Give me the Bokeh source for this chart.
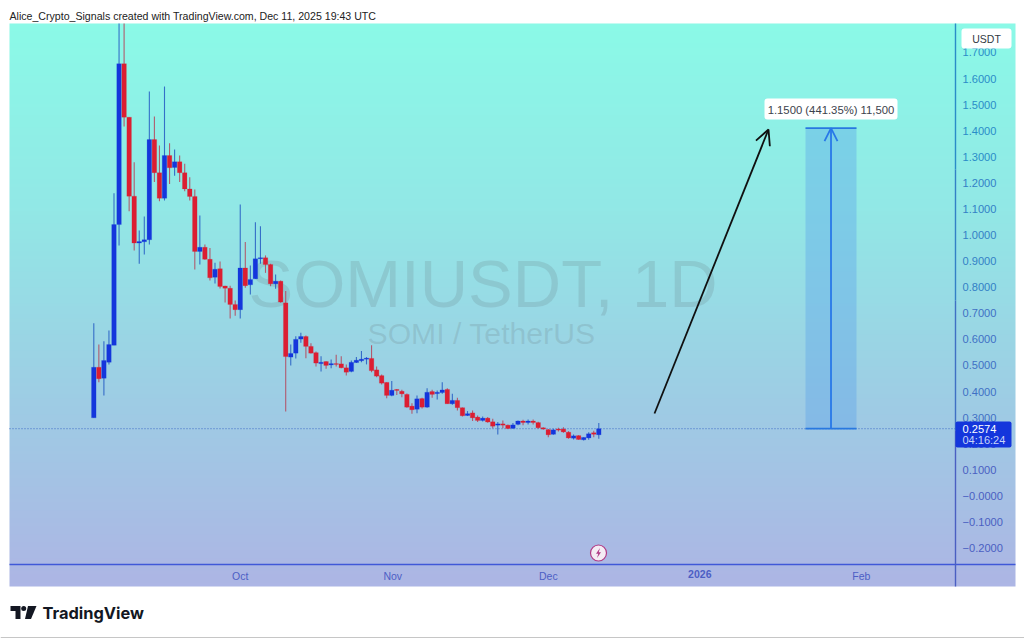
import numpy as np
from bokeh.core.properties import value
from bokeh.embed import file_html
from bokeh.models import (Arrow, BoxAnnotation, ColumnDataSource, FixedTicker, Label, LinearAxis, OpenHead,
                          Range1d)
from bokeh.plotting import figure
from bokeh.resources import INLINE

open_ = [.299,.493,.451,.512,.577,1.040,1.657,1.452,1.149,.969,.974,.982,1.366,1.239,1.141,1.305,1.259,1.281,1.239,1.177,
         1.148,.937,.953,.907,.838,.871,.805,.796,.734,.714,.874,.809,.832,.909,.913,.887,.813,.823,.740,.532,
         .547,.601,.611,.573,.549,.507,.515,.502,.507,.506,.491,.477,.511,.518,.524,.527,.483,.461,.435,.385,
         .408,.401,.389,.344,.332,.373,.340,.400,.392,.396,.408,.353,.366,.338,.308,.318,.302,.289,.298,.284,
         .271,.276,.271,.259,.274,.287,.281,.287,.281,.261,.254,.236,.256,.256,.244,.221,.231,.215,.222,.242,.234]
high = [.662,.580,.593,.634,1.160,1.811,1.811,1.452,1.279,1.017,1.071,1.550,1.455,1.343,1.570,1.352,1.328,1.305,1.273,1.222,
        1.175,1.075,.964,.950,.894,.899,.806,.806,.749,1.117,.973,.883,1.049,1.034,.922,.890,.849,.826,.785,.580,
        .612,.625,.615,.585,.553,.535,.516,.523,.541,.535,.504,.519,.532,.555,.532,.577,.496,.465,.436,.440,
        .410,.407,.392,.355,.385,.376,.413,.407,.404,.436,.413,.391,.376,.339,.325,.327,.308,.304,.302,.296,
        .283,.289,.274,.279,.289,.292,.293,.293,.284,.263,.256,.257,.261,.263,.248,.235,.232,.225,.244,.250,.279]
low = [.299,.436,.385,.504,.577,.960,1.416,1.091,.941,.890,.925,.964,1.203,1.130,1.132,1.196,1.227,1.203,1.168,1.132,
       .868,.887,.905,.826,.814,.795,.741,.680,.691,.680,.798,.772,.832,.890,.855,.804,.794,.740,.323,.500,
       .527,.587,.528,.546,.496,.477,.487,.489,.496,.489,.461,.474,.509,.512,.504,.474,.455,.427,.374,.382,
       .387,.378,.338,.315,.317,.335,.338,.376,.369,.391,.353,.349,.327,.304,.306,.287,.283,.285,.280,.259,
       .235,.259,.256,.256,.271,.271,.274,.274,.257,.253,.225,.234,.247,.242,.219,.216,.215,.212,.215,.225,.219]
close = [.493,.449,.519,.580,1.040,1.657,1.452,1.149,.969,.975,.982,1.366,1.239,1.141,1.305,1.258,1.281,1.239,1.177,1.148,
         .937,.953,.907,.836,.869,.803,.796,.734,.714,.874,.806,.830,.909,.913,.887,.813,.823,.743,.534,.546,
         .600,.611,.573,.547,.509,.512,.500,.507,.504,.491,.474,.512,.520,.524,.528,.480,.459,.432,.385,.405,
         .404,.391,.340,.330,.372,.340,.397,.389,.397,.406,.353,.366,.338,.307,.315,.299,.289,.298,.283,.267,
         .276,.271,.258,.272,.287,.281,.287,.281,.261,.256,.234,.253,.252,.245,.222,.230,.216,.224,.238,.236,.2574]

price_ticks = [1.7,1.6,1.5,1.4,1.3,1.2,1.1,1.0,.9,.8,.7,.6,.5,.4,.3,.2,.1,0.0,-.1,-.2]
price_labels = ["1.7000","1.6000","1.5000","1.4000","1.3000","1.2000","1.1000","1.0000","0.9000","0.8000",
                "0.7000","0.6000","0.5000","0.4000","0.3000","0.2000","0.1000","−0.0000","−0.1000","−0.2000"]
band_colors = ["#2a8cc8", "#3380c6", "#3f70c4", "#4a5fc2"]
time_ticks = [29, 59.2, 90, 152]
time_labels = ["Oct", "Nov", "Dec", "Feb"]
year_tick = 120
year_label = "2026"
last_price = 0.2574
target_price = 1.41
measure_text = "1.1500 (441.35%) 11,500"
grad_stops = [(23, (139,250,232)), (210, (146,232,230)), (430, (160,201,228)), (586, (173,182,229))]

PX_DAY, X0, PX_UNIT, Y0 = 5.05, 93.3, 260.8, 547.5
X = lambda px: (px - X0) / PX_DAY
Y = lambda py: (Y0 - py) / PX_UNIT - 0.2

p = figure(width=1024, height=638, output_backend="svg", toolbar_location=None,
           x_range=Range1d(X(0), X(1024)), y_range=Range1d(Y(638), Y(0)),
           x_axis_location=None, y_axis_location=None, min_border=0,
           border_fill_color="white", background_fill_color="white", outline_line_color=None)
p.xgrid.visible = False
p.ygrid.visible = False

# panel gradient
rows = np.arange(586, 23, -4.0)
sp = [s[0] for s in grad_stops]
rgba = np.zeros((len(rows), 1, 4), dtype=np.uint8)
for c in range(3):
    rgba[:, 0, c] = np.interp(rows, sp, [s[1][c] for s in grad_stops]).astype(np.uint8)
rgba[:, 0, 3] = 255
img = rgba.view(np.uint32).reshape(len(rows), 1)
p.image_rgba(image=[img], x=X(9), y=Y(586), dw=X(1015) - X(9), dh=Y(23) - Y(586))

sans = value("Liberation Sans")
# watermark
p.text(x=[X(248)], y=[Y(283)], text=["SOMIUSDT, 1D"], text_font=sans, text_font_size="67px",
       text_color="#6b7f88", text_alpha=0.22, text_baseline="middle")
p.text(x=[X(367)], y=[Y(333)], text=["SOMI / TetherUS"], text_font=sans, text_font_size="30.2px",
       text_color="#6b7f88", text_alpha=0.22, text_baseline="middle")

# last price line
p.segment(x0=[X(9)], x1=[X(955)], y0=[last_price], y1=[last_price], line_color="#3a68c4",
          line_width=1, line_dash="1 2")

# candles
days = np.arange(len(close))
o, h, l, cl = map(np.array, (open_, high, low, close))
up = cl >= o
src = ColumnDataSource(dict(x=days, top=np.maximum(o, cl), bottom=np.minimum(o, cl), h=h, l=l,
                            body=np.where(up, "#1436dc", "#dc1e32"),
                            wick=np.where(up, "#2a62c4", "#b44c60")))
p.segment(x0="x", x1="x", y0="l", y1="h", line_color="wick", line_width=1.1, line_alpha=0.9, source=src)
p.vbar(x="x", width=0.9, top="top", bottom="bottom", fill_color="body", line_color="body", line_width=0.2, source=src)

# long-position tool
left, right, mid = X(805), X(856), X(830.5)
p.quad(left=[left], right=[right], top=[target_price], bottom=[last_price], fill_color="#5aa0ea", fill_alpha=0.38,
       line_color=None)
p.segment(x0=[left, left], x1=[right, right], y0=[target_price, last_price], y1=[target_price, last_price],
          line_color="#2878e0", line_width=1.8)
p.add_layout(Arrow(end=OpenHead(size=13, line_color="#2878e8", line_width=1.8), x_start=mid, y_start=last_price,
                   x_end=mid, y_end=target_price, line_color="#2878e8", line_width=1.8))
p.add_layout(Arrow(end=OpenHead(size=15, line_color="#101010", line_width=1.8), x_start=X(654), y_start=Y(413),
                   x_end=X(768), y_end=Y(129), line_color="#101010", line_width=1.8))

# axes
for i, color in enumerate(band_colors):
    sel = list(range(i * 5, i * 5 + 5))
    ticks = [price_ticks[j] for j in sel]
    hi = Y(23) if i == 0 else ticks[0] + 0.05
    lo = Y(586) if i == 3 else ticks[-1] - 0.05
    ax = LinearAxis(ticker=FixedTicker(ticks=ticks), fixed_location=X(955), bounds=(lo, hi),
                    major_label_overrides={price_ticks[j]: price_labels[j] for j in sel},
                    axis_line_color=color, axis_line_width=1.4, major_tick_line_color=None, minor_tick_line_color=None,
                    major_tick_in=0, major_tick_out=0, major_label_standoff=7,
                    major_label_text_color=color, major_label_text_font="Liberation Sans",
                    major_label_text_font_size="11.1px")
    p.add_layout(ax, "right")

xax = LinearAxis(ticker=FixedTicker(ticks=time_ticks), fixed_location=Y(564), bounds=(X(9), X(1015)),
                 major_label_overrides=dict(zip(time_ticks, time_labels)),
                 axis_line_color="#4058d8", axis_line_width=1.4, major_tick_line_color=None, minor_tick_line_color=None,
                 major_tick_in=0, major_tick_out=0, major_label_standoff=5,
                 major_label_text_color="#4d5fc4", major_label_text_font="Liberation Sans",
                 major_label_text_font_size="10.5px")
p.add_layout(xax, "below")
yr = LinearAxis(ticker=FixedTicker(ticks=[year_tick]), fixed_location=Y(564), bounds=(X(9), X(1015)),
                major_label_overrides={year_tick: year_label},
                axis_line_color=None, major_tick_line_color=None, minor_tick_line_color=None,
                major_tick_in=0, major_tick_out=0, major_label_standoff=5,
                major_label_text_color="#4d5fc4", major_label_text_font="Liberation Sans",
                major_label_text_font_style="bold", major_label_text_font_size="10.5px")
p.add_layout(yr, "below")

# overlays on the scale
p.add_layout(BoxAnnotation(left=X(961), right=X(1011), top=Y(28), bottom=Y(48), fill_color="white", fill_alpha=1,
                           line_color=None, border_radius=3))
p.add_layout(Label(x=X(986), y=Y(38), text="USDT", text_align="center", text_baseline="middle",
                   text_font="Liberation Sans", text_font_size="10.5px", text_color="#333a44"))
p.add_layout(BoxAnnotation(left=X(955), right=X(1011), top=Y(421), bottom=Y(447), fill_color="#1436dc", fill_alpha=1,
                           line_color=None, border_radius=2))
p.add_layout(Label(x=X(962), y=Y(428), text=f"{last_price:.4f}", text_baseline="middle",
                   text_font="Liberation Sans", text_font_size="11.1px", text_color="white"))
p.add_layout(Label(x=X(962), y=Y(439.5), text="04:16:24", text_baseline="middle",
                   text_font="Liberation Sans", text_font_size="11px", text_color="#c8d4f8"))
p.add_layout(BoxAnnotation(left=X(764), right=X(897), top=Y(98), bottom=Y(119), fill_color="white", fill_alpha=1,
                           line_color=None, border_radius=3))
p.add_layout(Label(x=X(830.5), y=Y(109), text=measure_text, text_align="center", text_baseline="middle",
                   text_font="Liberation Sans", text_font_size="11.3px", text_color="#3c424c"))

# header
p.add_layout(Label(x=X(9), y=Y(15), text="Alice_Crypto_Signals created with TradingView.com, Dec 11, 2025 19:43 UTC",
                   text_baseline="middle", text_font="Liberation Sans", text_font_size="10.6px", text_color="#222222"))

# event marker
p.scatter(x=[X(598)], y=[Y(552.5)], size=16, marker="circle", fill_color="#f4ecf4", line_color="#b03a86", line_width=1.2)
p.patch(x=[X(a) for a in (599.5, 595.5, 597.8, 596.5, 600.5, 598.2)],
        y=[Y(b) for b in (547.5, 553.2, 553.2, 557.5, 551.8, 551.8)], fill_color="#b03a86", line_color=None)

# TradingView logo
p.patch(x=[X(a) for a in (10, 20, 20, 15, 15, 10)], y=[Y(b) for b in (605.5, 605.5, 618.5, 618.5, 610.5, 610.5)],
        fill_color="#131722", line_color=None)
p.scatter(x=[X(23.2)], y=[Y(608)], size=5, marker="circle", fill_color="#131722", line_color=None)
p.patch(x=[X(a) for a in (27.5, 36, 30.5, 24.5)], y=[Y(b) for b in (605.5, 605.5, 618.5, 618.5)],
        fill_color="#131722", line_color=None)
p.add_layout(Label(x=X(42), y=Y(612), text="TradingView", text_baseline="middle", text_font="Inter",
                   text_font_size="16.4px", text_font_style="bold", text_color="#131722"))

# bottom rule of the screenshot
p.segment(x0=[X(0)], x1=[X(1024)], y0=[Y(637.5)], y1=[Y(637.5)], line_color="#8c8c8c", line_width=1)

open("out.html", "w").write(file_html(p, INLINE))
